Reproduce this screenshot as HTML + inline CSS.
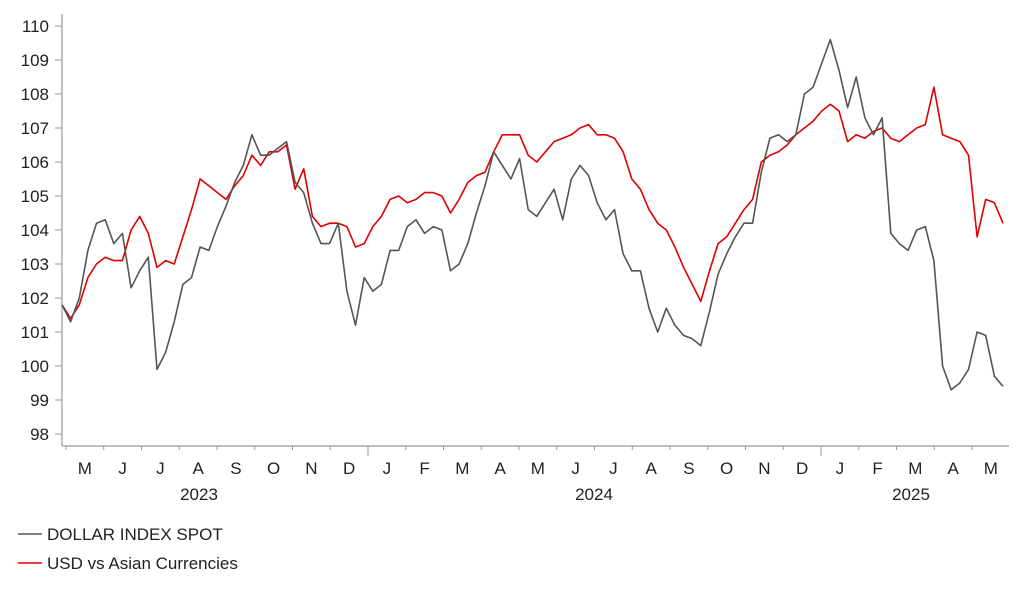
<!DOCTYPE html>
<html><head><meta charset="utf-8"><style>
body{margin:0;background:#fff;}
svg{display:block;font-family:"Liberation Sans",Arial,sans-serif;}
</style></head><body>
<svg id="chart" width="1022" height="597" viewBox="0 0 1022 597" xmlns="http://www.w3.org/2000/svg">
<g id="axes"></g>
<g id="series"></g>
<g id="legend">
  <g>
    <line x1="18" y1="534" x2="42" y2="534" stroke="#555" stroke-width="1.6"/>
    <text x="47" y="540" font-size="17" fill="#222">DOLLAR INDEX SPOT</text>
  </g>
  <g>
    <line x1="18" y1="563" x2="42" y2="563" stroke="#e00000" stroke-width="1.6"/>
    <text x="47" y="569" font-size="17" fill="#222">USD vs Asian Currencies</text>
  </g>
</g>
</svg>
<script>
const yTicks=[98,99,100,101,102,103,104,105,106,107,108,109,110];
const monthLabels=["M","J","J","A","S","O","N","D","J","F","M","A","M","J","J","A","S","O","N","D","J","F","M","A","M"];
const yearLabels=["2023","2024","2025"];
const dollarIndex=[101.8,101.3,102.0,103.4,104.2,104.3,103.6,103.9,102.3,102.8,103.2,99.9,100.4,101.3,102.4,102.6,103.5,103.4,104.1,104.7,105.4,105.9,106.8,106.2,106.2,106.4,106.6,105.4,105.1,104.2,103.6,103.6,104.2,102.2,101.2,102.6,102.2,102.4,103.4,103.4,104.1,104.3,103.9,104.1,104.0,102.8,103.0,103.6,104.5,105.3,106.3,105.9,105.5,106.1,104.6,104.4,104.8,105.2,104.3,105.5,105.9,105.6,104.8,104.3,104.6,103.3,102.8,102.8,101.7,101.0,101.7,101.2,100.9,100.8,100.6,101.6,102.7,103.3,103.8,104.2,104.2,105.7,106.7,106.8,106.6,106.8,108.0,108.2,108.9,109.6,108.7,107.6,108.5,107.3,106.8,107.3,103.9,103.6,103.4,104.0,104.1,103.1,100.0,99.3,99.5,99.9,101.0,100.9,99.7,99.4];
const usdAsian=[101.8,101.4,101.8,102.6,103.0,103.2,103.1,103.1,104.0,104.4,103.9,102.9,103.1,103.0,103.8,104.6,105.5,105.3,105.1,104.9,105.3,105.6,106.2,105.9,106.3,106.3,106.5,105.2,105.8,104.4,104.1,104.2,104.2,104.1,103.5,103.6,104.1,104.4,104.9,105.0,104.8,104.9,105.1,105.1,105.0,104.5,104.9,105.4,105.6,105.7,106.3,106.8,106.8,106.8,106.2,106.0,106.3,106.6,106.7,106.8,107.0,107.1,106.8,106.8,106.7,106.3,105.5,105.2,104.6,104.2,104.0,103.5,102.9,102.4,101.9,102.8,103.6,103.8,104.2,104.6,104.9,106.0,106.2,106.3,106.5,106.8,107.0,107.2,107.5,107.7,107.5,106.6,106.8,106.7,106.9,107.0,106.7,106.6,106.8,107.0,107.1,108.2,106.8,106.7,106.6,106.2,103.8,104.9,104.8,104.2];

const NS="http://www.w3.org/2000/svg";
const L=62,R=1003,T=26,B=446;
const yScale=v=>434-(v-98)*34;
const xIdx=i=>L+i*(R-L)/(dollarIndex.length-1);
const monthW=37.75, jan24=368;
const monthStart=k=>jan24+(k-8)*monthW;
function mk(tag,attrs,parent){const e=document.createElementNS(NS,tag);for(const k in attrs)e.setAttribute(k,attrs[k]);parent.appendChild(e);return e;}
const axes=document.getElementById('axes');
let a=mk('line',{x1:L,y1:T-12,x2:L,y2:B,stroke:'#999','stroke-width':1.2},axes);


a=mk('line',{x1:L,y1:B,x2:R+6,y2:B,stroke:'#999','stroke-width':1.2},axes);


yTicks.forEach(v=>{const y=yScale(v);
 const t=mk('line',{x1:L-7,y1:y,x2:L,y2:y,stroke:'#999','stroke-width':1},axes);
 
 
 const tx=mk('text',{x:L-13,y:y+6,'font-size':17,fill:'#222','text-anchor':'end'},axes);
 tx.textContent=v;
 
 
});
monthLabels.forEach((m,k)=>{const x0=monthStart(k);
 const yr=(k===8||k===20);
 const t=mk('line',{x1:x0,y1:B,x2:x0,y2:B+(yr?10:4),stroke:'#999','stroke-width':1},axes);
 
 
 const tx=mk('text',{x:x0+monthW/2,y:B+28,'font-size':17,fill:'#222','text-anchor':'middle'},axes);
 tx.textContent=m;
 
 
});
const yearX=[199,594,911];
yearLabels.forEach((y,i)=>{const tx=mk('text',{x:yearX[i],y:B+54,'font-size':17,fill:'#222','text-anchor':'middle'},axes);
 tx.textContent=y;
 
 
});
const series=document.getElementById('series');
function line(arr,color,name){const d=arr.map((v,i)=>(i?'L':'M')+xIdx(i).toFixed(1)+','+yScale(v).toFixed(1)).join('');
 const p=mk('path',{d:d,fill:'none',stroke:color,'stroke-width':1.6,'stroke-linejoin':'round'},series);
 
 
}
line(usdAsian,'#e00000','usd-vs-asian-line');
line(dollarIndex,'#555555','dollar-index-line');
</script>
</body></html>
